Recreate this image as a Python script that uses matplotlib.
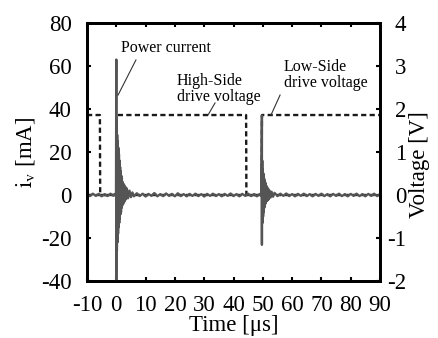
import matplotlib

matplotlib.use("Agg")
import matplotlib.pyplot as plt

plt.rcParams["font.family"] = ["Liberation Serif", "DejaVu Serif"]
plt.rcParams["mathtext.fontset"] = "stix"
plt.rcParams["axes.unicode_minus"] = False

# power current i_v [mA] versus time [us]
cur_t = [
    -10, -9, -8, -7, -6, -5, -4, -3, -2, -1, -0.4, -0.1,
    0.0, 0.0, 0.0,
    0.1, 0.2, 0.3, 0.4, 0.5, 0.6, 0.7, 0.8, 0.9, 1.0, 1.1, 1.2, 1.3, 1.4, 1.5,
    1.6, 1.7, 1.8, 1.9, 2.0, 2.2, 2.4, 2.6, 2.8, 3.0, 3.3, 3.6, 4.0, 4.5, 5.0, 5.5,
    6, 7, 8, 9, 10, 11, 12, 13, 14, 15, 16, 17, 18, 19, 20, 21, 22, 23, 24, 25,
    26, 27, 28, 29, 30, 31, 32, 33, 34, 35, 36, 37, 38, 39, 40, 41, 42, 43, 44,
    45, 46, 47, 48, 49, 49.5,
    49.7, 49.7, 49.7,
    49.8, 49.9, 50.0, 50.1, 50.2, 50.3, 50.4, 50.5, 50.6, 50.7, 50.8, 50.9, 51.0,
    51.2, 51.4, 51.6, 51.8, 52.0, 52.3, 52.6, 53.0, 53.5, 54.0,
    55, 56, 57, 58, 59, 60, 61, 62, 63, 64, 65, 66, 67, 68, 69, 70, 71, 72,
    73, 74, 75, 76, 77, 78, 79, 80, 81, 82, 83, 84, 85, 86, 87, 88, 89, 90,
]
cur_i = [
    0.3, -0.5, 0.6, -0.4, 0.5, -0.6, 0.4, -0.5, 0.6, -0.3, 0.5, -0.4,
    63, -45, 0,
    34, -26, 28, -22, 25, -18, 22, -15, 19, -13, 16, -11, 13, -9, 11,
    -8, 9, -6, 8, -5, 6, -4, 5, -3, 4, -2, 3, -1.5, 2, -1, 1.2,
    -0.6, 0.8, -0.5, 0.6, -0.7, 0.5, -0.4, 0.9, -0.6, 0.4, -0.5, 0.7, -0.4, 0.5, -0.6, 0.8,
    -0.5, 0.4, -0.6, 0.5,
    -0.4, 0.6, -0.5, 0.4, -0.7, 0.5, -0.4, 0.6, -0.5, 0.4, -0.6, 0.5, -0.4, 0.7, -0.5, 0.4,
    -0.6, 0.5, -0.4,
    0.6, -0.5, 0.4, -0.6, 0.5, -0.4,
    37, -23, 0,
    16, -13, 12, -10, 10, -8, 8, -6, 7, -5, 6, -4, 5,
    -3, 4, -2.5, 3, -2, 2, -1.2, 1.5, -0.8, 1,
    -0.5, 0.6, -0.4, 0.7, -0.5, 0.4, -0.6, 0.5, -0.4, 0.6, -0.5, 0.4, -0.6, 0.5, -0.4, 0.6,
    -0.5, 0.4,
    -0.6, 0.5, -0.4, 0.6, -0.5, 0.4, -0.6, 0.5, -0.4, 0.6, -0.5, 0.4, -0.6, 0.5, -0.4, 0.6,
    -0.5, 0.4,
]

# gate drive voltages [V]
high_t = [-10, -0.05, 0.05, 44.3, 44.4, 90]
high_v = [0, 0, 1.86, 1.86, 0, 0]
low_t = [-10, -5.6, -5.5, 49.6, 49.7, 90]
low_v = [1.86, 1.86, 0, 0, 1.86, 1.86]

x_ticks = [-10, 0, 10, 20, 30, 40, 50, 60, 70, 80, 90]
i_ticks = [-40, -20, 0, 20, 40, 60, 80]
v_ticks = [-2, -1, 0, 1, 2, 3, 4]

fig = plt.figure(figsize=(4.38, 3.38), dpi=100)
ax = fig.add_axes([87 / 438, 1 - 281 / 338, 293 / 438, 258 / 338])
ax2 = ax.twinx()
ax.set_zorder(ax2.get_zorder() + 1)
ax.patch.set_visible(False)

ax2.plot(high_t, high_v, color="#1a1a1a", lw=1.7, dashes=(2.2, 1.4))
ax2.plot(low_t, low_v, color="#1a1a1a", lw=1.7, dashes=(2.2, 1.4))
ax.plot(cur_t, cur_i, color="#555555", lw=1.7)

ax.set_xlim(-10, 90)
ax.set_ylim(-40, 80)
ax2.set_ylim(-2, 4)
ax.set_xticks(x_ticks)
ax.set_yticks(i_ticks)
ax2.set_yticks(v_ticks)

for a in (ax, ax2):
    for s in a.spines.values():
        s.set_linewidth(2)
ax.tick_params(axis="x", direction="in", length=3, width=1.5, top=True, labelsize=16.5, pad=10)
ax.tick_params(axis="y", direction="in", length=3, width=1.5, labelsize=16.5, pad=11)
ax2.tick_params(axis="y", direction="in", length=3, width=1.5, labelsize=16.5, pad=19)
for lab in ax2.get_yticklabels():
    lab.set_horizontalalignment("right")

ax.set_xlabel("Time [μs]", fontsize=16.5)
ax.xaxis.set_label_coords(0.5, -0.13)
ax.set_ylabel(r"$\mathrm{i}_{\mathrm{v}}$ [mA]", fontsize=16.5)
ax.yaxis.set_label_coords(-0.17, 0.5)
ax2.set_ylabel("Voltage [V]", fontsize=16.5)
ax2.yaxis.set_label_coords(1.10, 0.45)

ax.text(1.6, 68.4, "Power current", fontsize=11.5, ha="left", va="center")
ax.plot([6.7, 0.6], [62.8, 46.5], color="#333333", lw=0.8)
ax.text(20.7, 49.3, "High-Side\ndrive voltage", fontsize=11.5, ha="left", va="center",
        linespacing=1.05)
ax.plot([33.7, 31.3], [42.8, 37.2], color="#333333", lw=0.8)
ax.text(57.2, 55.8, "Low-Side\ndrive voltage", fontsize=11.5, ha="left", va="center",
        linespacing=1.05)
ax.plot([55.9, 52.8], [46.5, 37.2], color="#333333", lw=0.8)

fig.savefig("out.png", dpi=100)
